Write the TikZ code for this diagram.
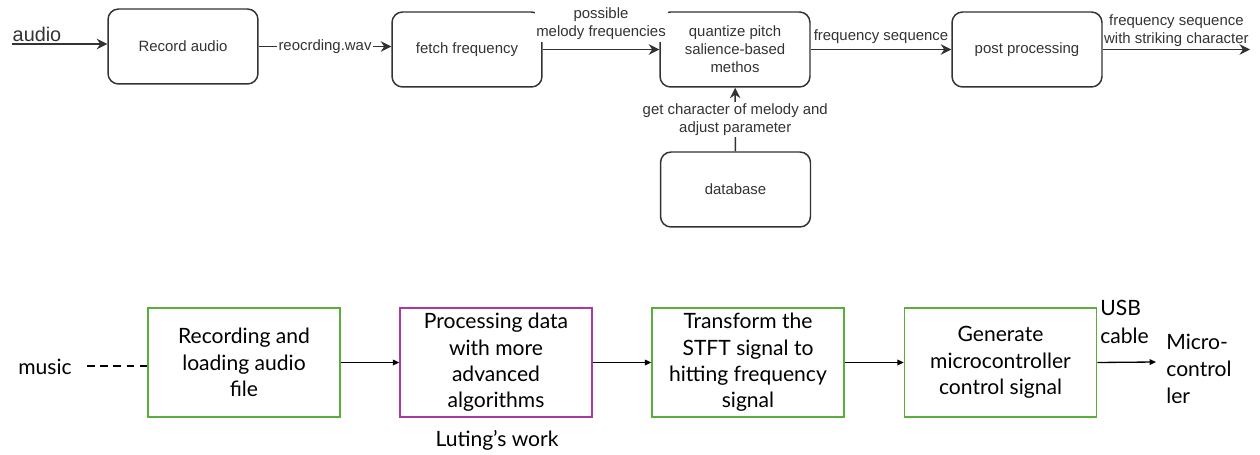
\documentclass[tikz,border=0pt]{standalone}
\usepackage{fontspec}
\setmainfont{Liberation Sans}
\newfontfamily\latofont{Lato}
\usepackage{tikz}
\usetikzlibrary{positioning,arrows.meta}
\definecolor{drawgray}{HTML}{333333}
\definecolor{stagegreen}{HTML}{5BAE3D}
\definecolor{stagepurple}{HTML}{A83AA5}

\begin{document}
\begin{tikzpicture}[x=0.02cm, y=-0.02cm, stage/.style={draw=drawgray, rounded corners=6pt, line width=0.85pt, minimum width=3cm, minimum height=1.5cm, align=center, text=drawgray, font=\fontsize{8.5}{10.2}\selectfont}, block/.style={draw=stagegreen, line width=0.9pt, minimum width=3.84cm, minimum height=2.18cm, inner sep=1pt, align=center, font=\latofont\fontsize{12}{15}\selectfont}, arrow/.style={-{Stealth[length=6pt,width=6pt,inset=2pt]}, draw=drawgray, line width=0.85pt}, link/.style={-{Triangle[length=3.6pt,width=3.2pt]}, line width=0.75pt}, lbl/.style={fill=white, inner sep=1pt, align=center, text=drawgray, font=\fontsize{8.5}{10.2}\selectfont}]
\useasboundingbox (0,0) rectangle (1260,455);
% top row
\node[text=drawgray, font=\fontsize{11.3}{13}\selectfont, inner sep=0pt, anchor=base] (audio) at (37,42) {audio};
\coordinate (ain) at (12,44);
\node[stage] (rec) at (183,46.5) {Record audio};
\node[stage] (fetch) at (467,49.5) {fetch frequency};
\node[stage] (quant) at (735,49.5) {quantize pitch\\salience-based\\methos};
\node[stage] (post) at (1027,49.5) {post processing};
\node[stage] (db) at (735.5,189.5) {database};
\coordinate (fout) at (1250,49.5);
\draw[arrow] (ain) -- (ain -| rec.west);
\draw[arrow] (rec.east) -- node[lbl]{reocrding.wav} (rec.east -| fetch.west);
\draw[arrow] (fetch) -- node[lbl, above=4pt]{possible\\melody frequencies} (quant);
\draw[arrow] (quant) -- node[lbl, above=2pt, fill=none]{frequency sequence} (post);
\draw[arrow] (post) -- node[lbl, above=0pt, fill=none]{frequency sequence\\with striking character} (fout);
\draw[arrow] (db) -- node[lbl]{get character of melody and\\adjust parameter} (quant);
% bottom row
\node[font=\latofont\fontsize{12}{15}\selectfont, inner sep=0pt] (music) at (45,367) {music};
\node[block] (b1) at (244,362.5) {Recording and\\loading audio\\file};
\node[block, draw=stagepurple] (b2) at (496,362.5) {Processing data\\with more\\advanced\\algorithms};
\node[block] (b3) at (748,362.5) {Transform the\\STFT signal to\\hitting frequency\\signal};
\node[block] (b4) at (1000.5,362.5) {Generate\\microcontroller\\control signal};
\node[font=\latofont\fontsize{12}{15}\selectfont, inner sep=0pt] (luting) at (497,440) {Luting’s work};
\node[font=\latofont\fontsize{12}{15.5}\selectfont, inner sep=0pt, align=left, anchor=west] (usb) at (1100,322) {USB\\cable};
\node[font=\latofont\fontsize{12}{15.5}\selectfont, inner sep=0pt, align=left, anchor=west] (micro) at (1166,369) {Micro-\\control\\ler};
\coordinate (din) at (87,366);
\coordinate (bout) at (1156,362);
\draw[line width=0.75pt, dash pattern=on 4.5pt off 3pt] (din) -- (din -| b1.west);
\draw[link] (b1) -- (b2);
\draw[link] (b2) -- (b3);
\draw[link] (b3) -- (b4);
\draw[link] (b4.east) -- (bout);
\end{tikzpicture}
\end{document}
